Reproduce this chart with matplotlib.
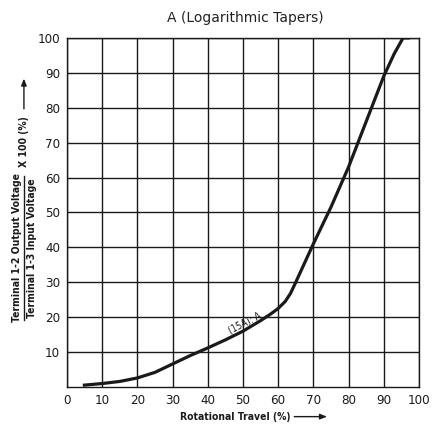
import matplotlib
matplotlib.use("Agg")
import matplotlib.pyplot as plt
from matplotlib.patches import FancyArrowPatch
from matplotlib.lines import Line2D

# curve
travel = [4.5, 10, 15, 20, 25, 30, 35, 40, 45, 50, 55, 58, 60, 62, 63.5, 65, 67.5, 70, 75, 80, 85, 90, 93, 95.5, 97.5]
ratio = [0.5, 1.0, 1.6, 2.6, 4.2, 6.6, 9.0, 11.2, 13.5, 16.0, 19.0, 21.0, 22.5, 24.5, 26.8, 30.0, 35.5, 41.0, 51.5, 63.0, 76.0, 89.0, 95.5, 100, 100]
xticks = list(range(0, 101, 10))
yticks = list(range(10, 101, 10))

narrow = ["DejaVu Sans"]

fig = plt.figure(figsize=(4.35, 4.26), dpi=100)
ax = fig.add_axes([0.154, 0.0915, 0.809, 0.8195])

ax.plot(travel, ratio, color="#1a1a1a", lw=2.3, solid_capstyle="butt")
ax.set_xlim(0, 100)
ax.set_ylim(0, 100)
ax.set_xticks(xticks)
ax.set_yticks(yticks)
ax.grid(True, color="#1a1a1a", lw=1.0)
ax.tick_params(length=0, pad=5)
for lab in ax.get_xticklabels() + ax.get_yticklabels():
    lab.set_family(narrow)
    lab.set_stretch("condensed")
    lab.set_fontsize(9.5)
    lab.set_color("#1a1a1a")
for s in ax.spines.values():
    s.set_color("#1a1a1a")
    s.set_linewidth(1.0)

ax.text(50.5, 18.3, "(15A): A", rotation=27, fontsize=7, family=narrow, stretch="condensed",
        ha="center", va="center", color="#1a1a1a")

fig.text(0.563, 0.957, "A (Logarithmic Tapers)", ha="center", va="center",
         fontsize=10, color="#222222")

lab_kw = dict(fontsize=7.5, family=narrow, stretch="condensed", weight="bold", color="#1a1a1a")

# x label with arrow
fig.text(0.668, 0.022, "Rotational Travel (%)", ha="right", va="center", **lab_kw)
fig.add_artist(FancyArrowPatch((0.670, 0.022), (0.758, 0.022), transform=fig.transFigure,
                               arrowstyle="-|>,head_length=4,head_width=1.6",
                               color="#1a1a1a", lw=1.0))

# y label as fraction
fig.text(0.040, 0.418, "Terminal 1-2 Output Voltage", rotation=90, ha="center", va="center", **lab_kw)
fig.text(0.073, 0.418, "Terminal 1-3 Input Voltage", rotation=90, ha="center", va="center", **lab_kw)
fig.add_artist(Line2D([0.056, 0.056], [0.248, 0.588], transform=fig.transFigure,
                      color="#1a1a1a", lw=1.0))
fig.text(0.055, 0.667, "X 100 (%)", rotation=90, ha="center", va="center", **lab_kw)
fig.add_artist(FancyArrowPatch((0.055, 0.738), (0.055, 0.822), transform=fig.transFigure,
                               arrowstyle="-|>,head_length=4,head_width=1.6",
                               color="#1a1a1a", lw=1.0))

fig.savefig("out.png", dpi=100)
